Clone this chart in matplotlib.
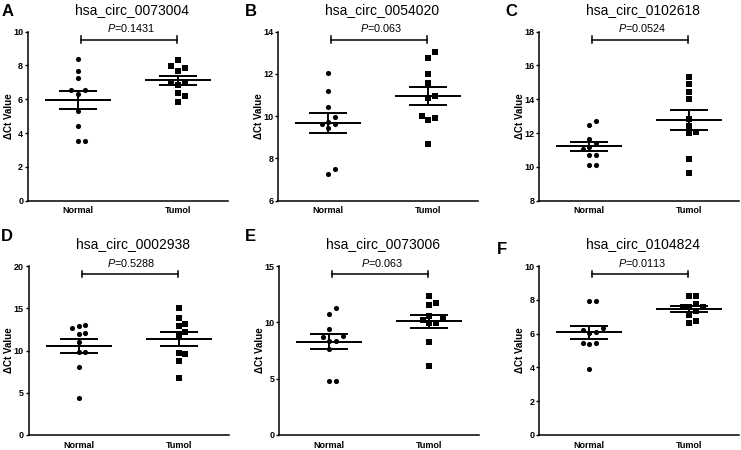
import numpy as np
import matplotlib
matplotlib.use('Agg')
import matplotlib.pyplot as plt
from matplotlib.transforms import blended_transform_factory

plt.rcParams['font.family'] = ['Liberation Sans', 'DejaVu Sans']
plt.rcParams['mathtext.fontset'] = 'custom'
plt.rcParams['mathtext.it'] = 'Liberation Sans:italic'
plt.rcParams['mathtext.rm'] = 'Liberation Sans'

# data
letters = ['A', 'B', 'C', 'D', 'E', 'F']
titles = ['hsa_circ_0073004', 'hsa_circ_0054020', 'hsa_circ_0102618',
          'hsa_circ_0002938', 'hsa_circ_0073006', 'hsa_circ_0104824']
p_values = ['0.1431', '0.063', '0.0524', '0.5288', '0.063', '0.0113']
groups = ['Normal', 'Tumol']

normal_a = [8.38, 7.69, 7.28, 6.55, 6.55, 6.31, 5.31, 4.40, 3.55, 3.55]
tumol_a = [8.33, 7.99, 7.87, 7.69, 7.00, 7.00, 6.85, 6.39, 6.20, 5.82]
normal_b = [12.03, 11.20, 10.45, 9.98, 9.74, 9.63, 9.63, 9.43, 7.50, 7.25]
tumol_b = [13.05, 12.75, 12.00, 11.55, 10.85, 10.95, 9.90, 9.80, 10.00, 8.67]
normal_c = [12.48, 12.72, 11.63, 11.40, 11.16, 11.08, 10.70, 10.70, 10.11, 10.11]
tumol_c = [15.30, 14.89, 14.41, 14.00, 12.85, 12.44, 11.99, 12.05, 10.47, 9.62]
normal_d = [12.98, 12.90, 12.63, 12.03, 11.92, 11.04, 9.78, 9.78, 8.09, 4.42]
tumol_d = [14.99, 13.81, 12.94, 13.14, 12.15, 11.83, 9.55, 9.67, 8.80, 6.78]
normal_e = [11.24, 10.71, 9.42, 8.74, 8.83, 8.36, 8.36, 7.65, 4.77, 4.83]
tumol_e = [12.33, 11.54, 11.74, 10.56, 10.21, 9.92, 9.97, 10.27, 8.24, 6.15]
normal_f = [7.95, 7.95, 6.21, 6.31, 6.02, 6.08, 5.43, 5.37, 5.43, 3.91]
tumol_f = [8.22, 8.22, 7.75, 7.59, 7.57, 7.59, 7.34, 7.12, 6.60, 6.76]

normals = [normal_a, normal_b, normal_c, normal_d, normal_e, normal_f]
tumols = [tumol_a, tumol_b, tumol_c, tumol_d, tumol_e, tumol_f]

y_limits = [(0, 10), (6, 14), (8, 18), (0, 20), (0, 15), (0, 10)]
y_steps = [2, 2, 2, 5, 5, 2]

W, H = 741, 450
# axes boxes in pixels: left, top
ax_pos = [(28, 31.7), (278.3, 31.7), (539.3, 31.7),
          (28.7, 266), (279.3, 266), (539.3, 266)]
ax_w, ax_h = 200, 169
letter_pos = [(2, 4), (245, 4), (505, 4), (1, 229), (245, 229), (497, 242)]


def swarm_offsets(ax, x0, vals, step=0.067, min_px=6.5):
    # simple beeswarm: put each point at the first free column
    placed = []
    offs = np.zeros(len(vals))
    for i in np.argsort(vals):
        for k in [0, 1, -1, 2, -2, 3, -3]:
            xp, yp = ax.transData.transform((x0 + k * step, vals[i]))
            if all(np.hypot(xp - a, yp - b) >= min_px for a, b in placed):
                break
        placed.append((xp, yp))
        offs[i] = k * step
    return offs


fig = plt.figure(figsize=(W / 100, H / 100), dpi=100)

for i in range(6):
    left, top = ax_pos[i]
    ax = fig.add_axes([left / W, 1 - (top + ax_h) / H, ax_w / W, ax_h / H])
    ax.set_xlim(-0.5, 1.5)
    ax.set_ylim(*y_limits[i])

    for j, (vals, mk) in enumerate([(normals[i], 'o'), (tumols[i], 's')]):
        vals = np.array(vals)
        offs = swarm_offsets(ax, j, vals)
        ax.plot(j + offs, vals, mk, color='black', ms=3.7, mew=0,
                clip_on=False, zorder=3)
        m = vals.mean()
        sem = vals.std(ddof=1) / np.sqrt(len(vals))
        ax.hlines(m, j - 0.33, j + 0.33, color='black', lw=1.4)
        ax.hlines([m - sem, m + sem], j - 0.19, j + 0.19, color='black', lw=1.4)
        ax.vlines(j, m - sem, m + sem, color='black', lw=1.4)

    lo, hi = y_limits[i]
    ax.set_yticks(np.arange(lo, hi + 0.1, y_steps[i]))
    ax.set_xticks([0, 1])
    ax.set_xticklabels(groups, fontsize=6.5, fontweight='bold')
    for t in ax.get_yticklabels():
        t.set_fontsize(6.5)
        t.set_fontweight('bold')
    ax.tick_params(axis='y', length=2.5, width=1, pad=1)
    ax.tick_params(axis='x', length=0, pad=4)
    for s in ['top', 'right']:
        ax.spines[s].set_visible(False)
    for s in ['left', 'bottom']:
        ax.spines[s].set_linewidth(1.1)

    ax.set_ylabel('ΔCt Value', fontsize=7, fontweight='bold')
    ax.yaxis.set_label_coords(-0.072, 0.5)

    # significance bracket
    tr = blended_transform_factory(ax.transData, ax.transAxes)
    yb = 0.953
    ax.plot([0.03, 0.99], [yb, yb], color='black', lw=1.1, transform=tr, clip_on=False)
    for xe in [0.03, 0.99]:
        ax.plot([xe, xe], [yb - 0.02, yb + 0.02], color='black', lw=1.1,
                transform=tr, clip_on=False)
    ax.text(0.53, 1.02, r'$\mathit{P}$=' + p_values[i], transform=tr,
            ha='center', va='center', fontsize=7.8)

    ax.text(0.52, 1.128, titles[i], transform=ax.transAxes, ha='center',
            va='center', fontsize=10)

    lx, ly = letter_pos[i]
    fig.text(lx / W, 1 - ly / H, letters[i], ha='left', va='top',
             fontsize=12, fontweight='bold')

fig.savefig('out.png', dpi=100)
